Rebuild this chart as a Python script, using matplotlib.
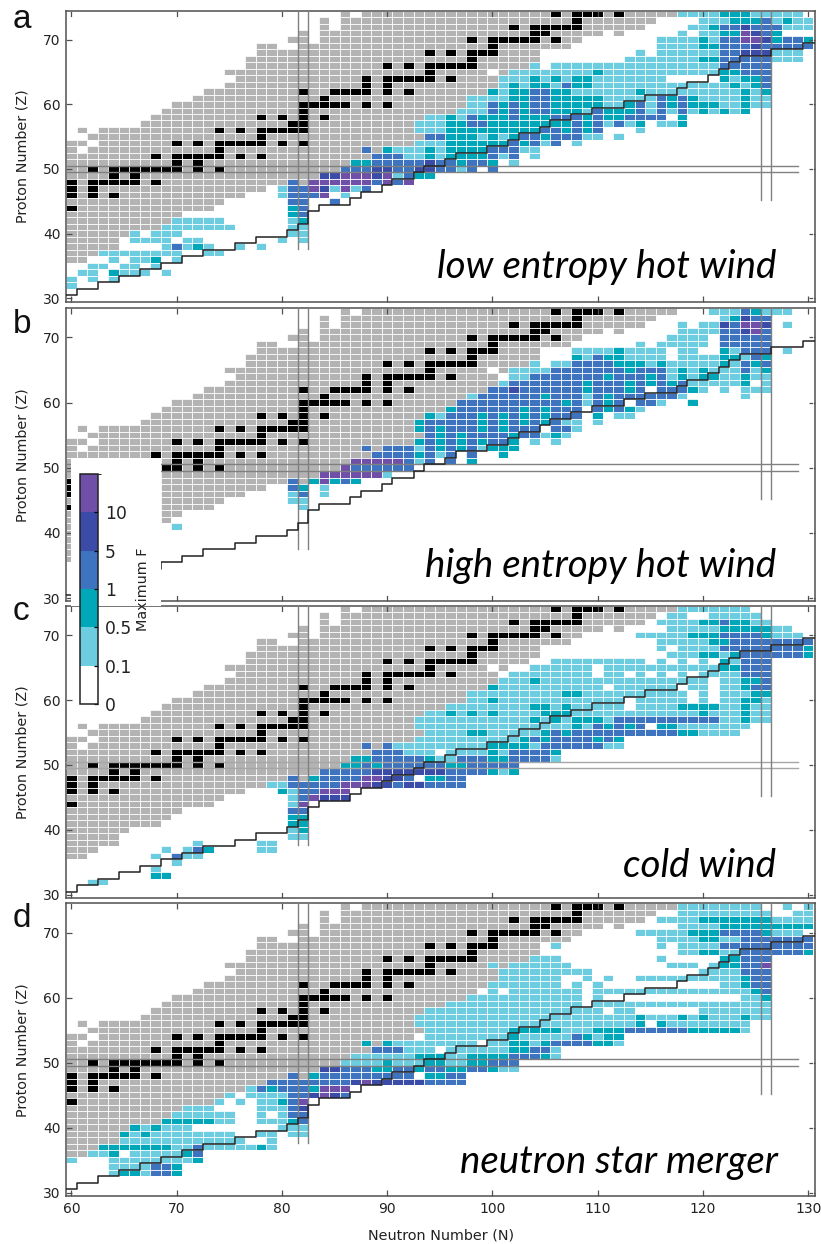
import numpy as np
import matplotlib
matplotlib.use("Agg")
import matplotlib.pyplot as plt
from matplotlib.colors import ListedColormap, BoundaryNorm
from matplotlib.patches import Rectangle
from matplotlib.cm import ScalarMappable

W, H = 821, 1244

# colour classes of Maximum F: 1 light .. 5 purple
level_colors = ["#6dcde0", "#00a7b8", "#3e73c0", "#3a4ca8", "#6f4fa8"]
cbar_bounds = [0, 0.1, 0.5, 1, 5, 10, 20]
cbar_ticks = [0, 0.1, 0.5, 1, 5, 10]
xticks = [60, 70, 80, 90, 100, 110, 120, 130]
yticks = [30, 40, 50, 60, 70]

# known nuclei region: Z -> runs of N
gray_runs = {
74: [(86,86),(88,117)], 73: [(84,84),(86,115)], 72: [(84,84),(86,114)],
71: [(82,82),(84,110),(112,112)], 70: [(81,82),(84,108)], 69: [(78,79),(82,107)],
68: [(78,104)], 67: [(77,104)], 66: [(77,103)], 65: [(75,99),(101,101)],
64: [(76,100)], 63: [(75,100)], 62: [(73,99)], 61: [(72,98)], 60: [(70,97)],
59: [(69,96)], 58: [(68,93)], 57: [(67,92)], 56: [(61,61),(63,92)], 55: [(62,93)],
54: [(60,61),(63,92)], 53: [(60,60),(62,89)], 52: [(60,88)], 51: [(60,86)],
50: [(60,85)], 49: [(60,83)], 48: [(60,80),(82,82)], 47: [(60,78)], 46: [(60,76)],
45: [(60,74)], 44: [(60,73)], 43: [(60,70)], 42: [(60,69)], 41: [(60,68)],
40: [(60,65)], 39: [(60,64)], 38: [(60,64)], 37: [(60,62)], 36: [(60,61)],
}

# stable nuclei: Z -> N values
stable = {
44: [60], 46: [60,62,64], 47: [60,62], 48: [60,62,63,64,65,66,68], 49: [64,66],
50: [62,64,65,66,67,68,69,70,72,74], 51: [70,72], 52: [68,70,71,72,73,74,76,78],
53: [74], 54: [70,72,74,75,76,77,78,80,82], 55: [78], 56: [74,76,78,79,80,81,82],
57: [81,82], 58: [78,80,82,84], 59: [82], 60: [82,83,84,85,86,88,90], 61: [84],
62: [82,85,86,87,88,90,92], 63: [88,90], 64: [88,90,91,92,93,94,96], 65: [94],
66: [90,92,94,95,96,97,98], 67: [98], 68: [94,96,98,99,100], 69: [100],
70: [98,100,101,102,103,104,106], 71: [104,105], 72: [102,104,105,106,107,108],
73: [108], 74: [106,108,109,110,112],
}

# r-process path edge (neutron drip step line)
drip_n = [59.5,60.5,62.5,64.5,66.5,68.5,70.5,72.5,75.5,77.5,80.5,81.5,82.5,83.5,86.5,87.5,89.5,90.5,92.5,
          93.5,95.5,96.5,99.5,101.5,102.5,104.5,105.5,107.5,109.5,112.5,114.5,117.5,118.5,120.5,121.5,
          122.5,123.5,126.5,129.5,130.65]
drip_z = [30.5,31.5,32.5,33.5,34.5,35.5,36.5,37.5,38.5,39.5,40.5,41.5,43.5,44.5,45.5,46.5,47.5,48.5,49.5,
          50.5,51.5,52.5,53.5,54.5,55.5,56.5,57.5,58.5,59.5,60.5,61.5,62.5,63.5,64.5,65.5,
          66.5,67.5,68.5,69.5,69.5]

# Each row: Z -> (first N, class digits); '.' means no coloured cell, spaces are only for reading
cells_a = {
32: (60, "1"), 33: (60, "1.1.1"), 34: (61, "11.2111.1"), 35: (62, "11.11.1"), 36: (64, "1.112.1"),
37: (63, "11111111..11"), 38: (69, "13121..1.1"), 39: (66, "1111.11.......1.1"),
40: (66, "1.111..........11"), 41: (69, "1111111.....11"), 42: (70, "11111......12"),
43: (81, "23"), 44: (81, "23"), 45: (81, "33..3"), 46: (80, "13335.1"), 47: (80, "133541513"),
48: (81, "3.5555553535"), 49: (84, "44555451322"),
50: (86, "333 44 33 44 33 1 3 . 3"),
51: (87, "22 3333 3 4 33 2 33 2 . 1"),
52: (89, "333 11 2 1 2222 3 1 3 . 1"),
53: (88, "3.2 111 2 1 2 222 333 11"),
54: (93, "111 2222 22 3 2 3 1 3 . 1"),
55: (94, "33 222 1 2 1 2 3 3 2 333 1 1 . 1"),
56: (93, "111 2222 22222 33 2 3 2 3 ... 1"),
57: (93, "111 22 33 2222222 2 3 2 3 1 3 1 2 . 11 2"),
58: (94, "11 2 1 3 2 2 2 3 22 2 33 3 2 3 22 33 33 . 2"),
59: (97, "111 3 2 3 2 33 222 1 3 222 3 1 3 1 3 1 2 1 2 1 2"),
60: (98, "11 3 2 3 2 33 2 22 2 2 11 2 3 1 3 2 3 2 22 11 2 11"),
61: (98, "11 11 22 33 2222 2 11 111 3 2 3 2 1111 2 11"),
62: (100, "2 1 22 33 22 111111 2 111111111 2 1 2"),
63: (101, "1 2 1 2 2 1 3 22 1111111111111 2 1 2 3"),
64: (101, "111 2 1 2 1 22 1111111 ..... 2 1 2 2 3"),
65: (102, "11111111 2 11111111111 22 333"),
66: (104, "1. 1111111111111111 33 333"),
67: (113, "1111111 22 33 333 111"),
68: (114, "1. 1111 11 33 444 111"),
69: (116, "1111 22 33 343 3333"),
70: (116, "1111 21 33 554 2 33 2"),
71: (118, "1. 11 22 5 4 3 2"),
72: (119, "1 1 2 33 4 33 3 111"),
73: (120, "111 222 3 1 2 1 1"),
74: (118, "1111 222 11 111"),
}

cells_b = {
41: (70, "1"), 44: (82, "1"), 45: (81, "11"), 46: (81, "13.1"), 47: (81, "32.1"),
48: (81, "3.25232"), 49: (84, "555555 1"), 50: (86, "5 33333 3"),
51: (87, "55555 3 1 3 . 3 . 2"),
52: (89, "333 3 2 3 1 3 . 3 .. 2"),
53: (88, "3.333 1 3 2 3 2 3 1 222"),
54: (93, "2 3 2 3 2 3 2 33 2 . 1 . 1"),
55: (94, "3232 33 33 2 33 1 2 1"),
56: (93, "2 3 2 3 33 2 3 2 3 3 3 . 33 1"),
57: (93, "2 333 33 2 3 2 3 2 3 2 3 11 . 1"),
58: (94, "2 1 333 2 3 2 3 2 3 2 3 3 3 . 2 . 11"),
59: (96, "2 33 3 333 2 3 2 333 . 3 2 3 2 1"),
60: (97, "333333333 3 2 3 1 3 2 3 . 3 3 1 .. 2"),
61: (98, "1 333333 2 33 3 1 3 2 3 33 3 3 3 1 ..... 1"),
62: (100, "33 4 333333 2 333 2 3 . 33 3 2 1 . 1 . 111"),
63: (101, "1 3333333 2 333 2 3 2 3 2 3 11 1 11 2 . 1"),
64: (102, "11 3333333 2 3 3 3 2 3 1 2 1 2 2 11 2 11"),
65: (102, "1111 3333333 2 333 1 2 1 2 111 3 1 2"),
66: (104, "1. 11 3333 2 22 1 2 11111 2 1 3 2 3"),
67: (108, "2 1 3 2 2 1111 . 1111 22 1 3 2"),
68: (108, "1111 2 1111 . 11 .. 2 1 333 . 1"),
69: (114, "1. 11111 . 33 333"),
70: (117, "1111 . 33 333"),
71: (118, "1111 33 4 5 3"),
72: (118, "1. 11 4 3 5 5 4 . 1"),
73: (122, "1 2 4 3 3"),
74: (121, "111 3 2 1 1 1"),
}

cells_c = {
32: (62, "11"), 33: (68, "22"), 34: (68, "1"), 35: (70, "1"), 36: (68, "1.311"),
37: (69, "1.132 .... 11"), 38: (72, "1 ..... 11"), 39: (81, "11"), 40: (81, "12"),
41: (81, "22"), 42: (81, "22"), 43: (81, "33"), 44: (81, "15"), 45: (81, "13 5 444"),
46: (80, "2 1 3 3 555"),
47: (79, "11 33 333 555 44 3 44 3333"),
48: (81, "3.2 33 33 55 44 3 . 22 33"),
49: (84, "33 333 444 4 4 44 33 33 2 1 2"),
50: (86, "22 3 2 333 3 33 22 3333 3"),
51: (87, "22 3 333 3 2 1 1 3 33 2 2 3333 1"),
52: (89, "333 1 1 1 . 1 1 11 2 1 3333 2"),
53: (88, "3.3 11 11 1 1111 22 22 1 333333 11"),
54: (93, "1111111111 2 3 2 3333 2 3 2"),
55: (94, "1111 22 11 11 1 2 3 2 33 3 3333333 22 1111"),
56: (93, "111111111111111 2 1 3 2 3 2 3 . 22 1111111"),
57: (93, "11111111111 2 1 2 1 222 1 3333333333 11 2 11"),
58: (94, "11 2 1 2 1 2 1111 222 111111111111 2 111 2 11"),
59: (96, "11111111 2212 11111 . 1111 2222 11 2 11"),
60: (98, "11 2 111111111111 . 11111 . 1 . 11 22 1"),
61: (98, "111111111 22 1111111111 . 1 . 11 1 22"),
62: (100, "2 1111111111 . 111111 . 11 . 11 2 33"),
63: (101, "111 2 1111111111111111 . 11 22 3"),
64: (102, "11111111 . 1 1 . 1 . 1 . 1 . 1 1 11 333"),
65: (104, "111111 . 1111111111 1 22 333"),
66: (106, "111111111 . 1 . 1 . 1 . 2 1 333"),
67: (117, "111 22 1 2 333 333 2"),
68: (116, "1. 111 1 3 3 333 333 2"),
69: (116, "11111 2 2 3 333 3333"),
70: (114, "11111 2 22 33 33 2 111"),
71: (117, "11111 2 22 22 11"),
72: (116, "1111 22 3 22 11"),
73: (117, "11 .. 11111"),
74: (118, "1111111"),
}

cells_d = {
33: (64, "1221332"), 34: (64, "1111332"), 35: (60, "1... 11111111 2"),
36: (62, "11 2 . 1111 1 2 3"),
37: (63, "2222222 11 3 11111 2 1"),
38: (65, "111111111111 .. 1"),
39: (65, "2 1 2 11111111 .. 11 . 11"),
40: (66, "2 1 2 111 ........ 1 11"),
41: (69, "22222 11 .. 1 11 2 3"),
42: (70, "111111 .. 1 . 1 33"),
43: (71, "111 .... 11 1 3 4"),
44: (74, "1. 1. 11 2 3 5"),
45: (75, "1. 1 11 1 33 4 5 4 3"),
46: (77, "1 3 2 3 33 2 555"),
47: (79, "33 33 333 3 4 5 4 44 44 3333"),
48: (81, "3.2 333333 333 . 22 33"),
49: (84, "44 333 22 33 2 33 22 33 2 11"),
50: (86, "1111 2 111 22 11 22 333"),
51: (87, "111111 2 22 11 22 22 333 2 1"),
52: (89, "333 1 11 . 1 1 11 11 22 33 1"),
53: (88, "2.2 11 111111 . 11 22 1 2 3333 22 1"),
54: (94, "11111111 2 1 1 1 11 3 2 1 2 2"),
55: (94, "11111111 2 22 2 2 111 222 333333 22222 1"),
56: (93, "111111111111111111111 2 . 2 11111111"),
57: (93, "111111111111111111111 2 111 2 1 2 111 2 11"),
58: (94, "11111111111111111 . 11 ...... 1111111"),
59: (96, "1111111111111 . 11 1111111111111 11"),
60: (98, "11111111111 . 1 ............. 11 2"),
61: (100, "1. 1111111 . 1 11 111111111111 2 3"),
62: (100, "1111111 . 1 . 1 ........... 11 2 33"),
63: (101, "111111 .. 1 . 1 .. 11111111 11 2 33"),
64: (101, "111111111 .......... 11 11 3 33"),
65: (100, "1 . 111111 ......... 111 . 1 22 33 5"),
66: (104, "111 ......... 1 ..... 22 333"),
67: (118, "11 22 11 333 333 2"),
68: (106, "1 ......... 1 . 11 11 33 333 3333"),
69: (116, "1111 22 11 333 3333"),
70: (114, "11 111 2 22 33 33 2 111"),
71: (118, "1111 22 22 222 22 1"),
72: (116, "1111 22222 22 1 111"),
73: (118, "111111111 .. 11"),
74: (118, "11111111 .. 1 . 1"),
}

panel_letters = ["a", "b", "c", "d"]
panel_names = ["low entropy hot wind", "high entropy hot wind", "cold wind", "neutron star merger"]
panel_cells = [cells_a, cells_b, cells_c, cells_d]
ylabel_text = "Proton Number (Z)"
xlabel_text = "Neutron Number (N)"
cbar_label = "Maximum F"

# layout in pixels: (top, bottom)
panel_px = [(10.6, 301.5), (308.0, 601.4), (606.0, 898.0), (903.4, 1196.0)]
LEFT, RIGHT = 66.2, 815.0
name_base = [278, 577, 877, 1173]
name_right = [776, 776, 776, 778]
letter_base = [28, 333, 620, 927]
hline_colors = ["#808080", "#808080", "#a6a6a6", "#808080"]

N_vals = np.arange(60, 131)
Z_vals = np.arange(30, 75)
n_edges = np.arange(59.5, 131.5)
z_edges = np.arange(29.5, 75.5)

cmap = ListedColormap(["#b3b3b3", "#000000"] + level_colors)
norm = BoundaryNorm(np.arange(0.5, 8.5), cmap.N)


def build_grid(cells):
    g = np.zeros((len(Z_vals), len(N_vals)))
    for z, runs in gray_runs.items():
        for a, b in runs:
            g[z - 30, a - 60:b - 60 + 1] = 1
    for z, ns in stable.items():
        for n in ns:
            g[z - 30, n - 60] = 2
    for z, (start, digits) in cells.items():
        digits = digits.replace(" ", "")
        for i, ch in enumerate(digits):
            if ch != "." and start + i <= 130:
                g[z - 30, start + i - 60] = 2 + int(ch)
    return np.ma.masked_equal(g, 0)


fig = plt.figure(figsize=(W / 100, H / 100), dpi=100, facecolor="white")
spine_col = "#505050"

for i, (top, bottom) in enumerate(panel_px):
    ax = fig.add_axes([LEFT / W, 1 - bottom / H, (RIGHT - LEFT) / W, (bottom - top) / H])
    ax.pcolormesh(n_edges, z_edges, build_grid(panel_cells[i]), cmap=cmap, norm=norm,
                  edgecolors="none", zorder=1)
    # thin white gaps between the cells
    ax.hlines(z_edges, 59.5, 131, color="white", lw=0.62, zorder=2)
    ax.vlines(n_edges, 29.5, 75, color="white", lw=0.62, zorder=2)
    ax.set_xlim(59.5, 130.65)
    ax.set_ylim(29.5, 74.5)
    ax.set_xticks(xticks)
    ax.set_yticks(yticks)
    ax.tick_params(direction="in", top=True, right=True, length=4.5, width=0.9, color=spine_col,
                   labelsize=10, pad=4, labelcolor="#222222", labelbottom=(i == 3))
    for s in ax.spines.values():
        s.set_color(spine_col)
        s.set_linewidth(1.1)
    # shell closures
    for zz in (49.5, 50.5):
        ax.plot([59.5, 129.0], [zz, zz], color=hline_colors[i], lw=1.0, zorder=3)
    for nn in (81.5, 82.5):
        ax.plot([nn, nn], [37.6, 74.5], color="#808080", lw=1.0, zorder=3)
    for nn in (125.5, 126.5):
        ax.plot([nn, nn], [45.2, 74.5], color="#808080", lw=1.0, zorder=3)
    ax.plot(drip_n, drip_z, drawstyle="steps-post", color="#222222", lw=1.1, zorder=4)
    ax.set_ylabel(ylabel_text, fontsize=10.4, color="#222222", labelpad=10)
    if i == 3:
        ax.set_xlabel(xlabel_text, fontsize=10.4, color="#222222", labelpad=9)
    fig.text(13 / W, 1 - letter_base[i] / H, panel_letters[i], fontsize=24,
             family="Liberation Sans", color="#111111", va="baseline", ha="left", zorder=10)
    fig.text(name_right[i] / W, 1 - name_base[i] / H, panel_names[i], fontsize=27.7, style="italic",
             family="Lato", color="black", ha="right", va="baseline", zorder=10)

# white box behind the shared colour bar
fig.add_artist(Rectangle((70.5 / W, 1 - 606 / H), (161.2 - 70.5) / W, (606 - 458.0) / H,
                         transform=fig.transFigure, facecolor="white", edgecolor="none", zorder=5))

cax = fig.add_axes([80.3 / W, 1 - 704 / H, 17.4 / W, (704 - 474) / H], zorder=6)
sm = ScalarMappable(norm=BoundaryNorm(cbar_bounds, 6),
                    cmap=ListedColormap(["white"] + level_colors))
cb = fig.colorbar(sm, cax=cax, spacing="uniform", ticks=cbar_ticks)
cb.ax.set_yticklabels([str(t) for t in cbar_ticks], fontsize=12.3, color="#222222")
cb.ax.tick_params(length=3, width=0.9, direction="in", pad=5)
cb.outline.set_edgecolor("#222222")
cb.outline.set_linewidth(1.1)
fig.text(143 / W, 1 - 589 / H, cbar_label, rotation=90, fontsize=10.4, color="#222222",
         ha="center", va="center", zorder=7)

fig.savefig("out.png", dpi=100)
